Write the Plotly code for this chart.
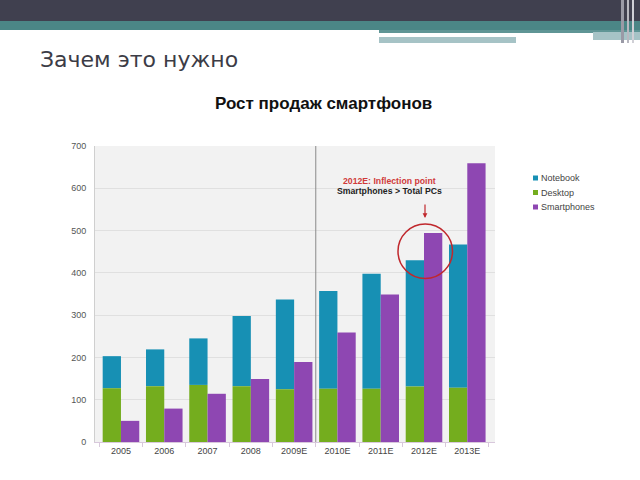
import plotly.graph_objects as go

years = ["2005", "2006", "2007", "2008", "2009E", "2010E", "2011E", "2012E", "2013E"]
desktop = [127, 132, 135, 132, 125, 126, 126, 131, 128]
total_pc = [203, 219, 245, 298, 337, 357, 398, 430, 467]
smartphones = [50, 79, 114, 149, 189, 259, 349, 494, 659]
notebook = [t - d for t, d in zip(total_pc, desktop)]
y_ticks = [0, 100, 200, 300, 400, 500, 600, 700]
series_names = ["Notebook", "Desktop", "Smartphones"]
series_colors = ["#1790b4", "#74ad1e", "#8e47b2"]

W, H = 640, 480
def px(x):
    return x / W
def py(y):
    return 1 - y / H

fig = go.Figure()
fig.add_trace(go.Bar(name=series_names[0], x=years, y=notebook, base=desktop, offsetgroup="pc",
                     marker=dict(color=series_colors[0], line=dict(width=0)), showlegend=False))
fig.add_trace(go.Bar(name=series_names[1], x=years, y=desktop, offsetgroup="pc",
                     marker=dict(color=series_colors[1], line=dict(width=0)), showlegend=False))
fig.add_trace(go.Bar(name=series_names[2], x=years, y=smartphones, offsetgroup="sp",
                     marker=dict(color=series_colors[2], line=dict(width=0)), showlegend=False))

shapes = [
    dict(type="rect", xref="paper", yref="paper", x0=0, x1=1, y0=py(21), y1=1,
         fillcolor="#40404f", line=dict(width=0), layer="above"),
    dict(type="rect", xref="paper", yref="paper", x0=0, x1=1, y0=py(30), y1=py(21),
         fillcolor="#4b8686", line=dict(width=0), layer="above"),
    dict(type="rect", xref="paper", yref="paper", x0=px(379), x1=1, y0=py(33), y1=py(30),
         fillcolor="#5f9595", line=dict(width=0), layer="above"),
    dict(type="rect", xref="paper", yref="paper", x0=px(379), x1=px(516), y0=py(43), y1=py(37),
         fillcolor="#a6c3c6", line=dict(width=0), layer="above"),
    dict(type="rect", xref="paper", yref="paper", x0=px(593), x1=1, y0=py(40), y1=py(32),
         fillcolor="#a6c3c6", line=dict(width=0), layer="above"),
    dict(type="rect", xref="paper", yref="paper", x0=px(621), x1=px(624), y0=py(43), y1=1,
         fillcolor="#9a9aa6", line=dict(width=0), layer="above"),
    dict(type="rect", xref="paper", yref="paper", x0=px(627), x1=px(629), y0=py(43), y1=1,
         fillcolor="#b8b8c0", line=dict(width=0), layer="above"),
    dict(type="rect", xref="paper", yref="paper", x0=px(632), x1=px(634), y0=py(43), y1=1,
         fillcolor="#d0d0d6", line=dict(width=0), layer="above"),
    # separator between actual and estimates
    dict(type="line", xref="x", yref="paper", x0=4.5, x1=4.5, y0=py(442), y1=py(146),
         line=dict(color="#8a8a8a", width=1)),
    # inflection circle
    dict(type="circle", xref="paper", yref="paper", x0=px(398), x1=px(452.5),
         y0=py(278.5), y1=py(224), line=dict(color="#c0282d", width=1.5)),
]

annotations = [
    dict(text="Зачем это нужно", xref="paper", yref="paper", x=px(38), y=py(59),
         xanchor="left", yanchor="middle", showarrow=False,
         font=dict(family="DejaVu Sans", size=22, color="#3c3c46")),
    dict(text="<b>Рост продаж смартфонов</b>", xref="paper", yref="paper", x=px(323.5), y=py(103),
         xanchor="center", yanchor="middle", showarrow=False,
         font=dict(family="Liberation Sans", size=17, color="#111111")),
    dict(text="<b>2012E: Inflection point</b>", xref="paper", yref="paper", x=px(389), y=py(181),
         xanchor="center", yanchor="middle", showarrow=False,
         font=dict(family="Liberation Sans", size=8.7, color="#d03a3a")),
    dict(text="<b>Smartphones > Total PCs</b>", xref="paper", yref="paper", x=px(389), y=py(191),
         xanchor="center", yanchor="middle", showarrow=False,
         font=dict(family="Liberation Sans", size=8.7, color="#222222")),
    dict(text="", xref="paper", yref="paper", x=px(425), y=py(218), ax=0, ay=-15,
         showarrow=True, arrowhead=2, arrowsize=0.8, arrowwidth=1.2, arrowcolor="#c0282d"),
]

# compact legend (small squares, tight spacing like the original)
legend_top = 178
legend_step = 14.5
for i, (name, color) in enumerate(zip(series_names, series_colors)):
    yc = legend_top + i * legend_step
    shapes.append(dict(type="rect", xref="paper", yref="paper",
                       x0=px(533), x1=px(538), y0=py(yc + 2.5), y1=py(yc - 2.5),
                       fillcolor=color, line=dict(width=0)))
    annotations.append(dict(text=name, xref="paper", yref="paper", x=px(538.5), y=py(yc),
                            xanchor="left", yanchor="middle", showarrow=False,
                            font=dict(family="Liberation Sans", size=9, color="#444444")))

fig.update_layout(
    width=W, height=H,
    margin=dict(l=0, r=0, t=0, b=0, pad=0),
    paper_bgcolor="white",
    plot_bgcolor="#f2f2f2",
    barmode="group",
    bargap=0.155,
    bargroupgap=0,
    showlegend=False,
    font=dict(family="Liberation Sans", size=9, color="#444444"),
    xaxis=dict(domain=[px(95), px(495)], range=[-0.6, 8.64], type="category",
               automargin=False,
               tickson="boundaries", ticks="outside", ticklen=4, tickcolor="#d8c8dc",
               showline=True, linecolor="#d8c8dc", linewidth=1,
               tickfont=dict(size=9, color="#444444"), showgrid=False),
    yaxis=dict(domain=[py(442), py(146)], range=[0, 700], tickvals=y_ticks,
               automargin=False,
               showgrid=True, gridcolor="#e0e0e0", gridwidth=1,
               showline=True, linecolor="#cfcfcf", linewidth=1,
               ticks="", ticklabelstandoff=6, zeroline=False,
               tickfont=dict(size=9, color="#555555")),
    shapes=shapes,
    annotations=annotations,
)

fig.write_html("out.html", config={"displayModeBar": False},
               post_script="document.body.style.margin='0';document.body.style.overflow='hidden';")
